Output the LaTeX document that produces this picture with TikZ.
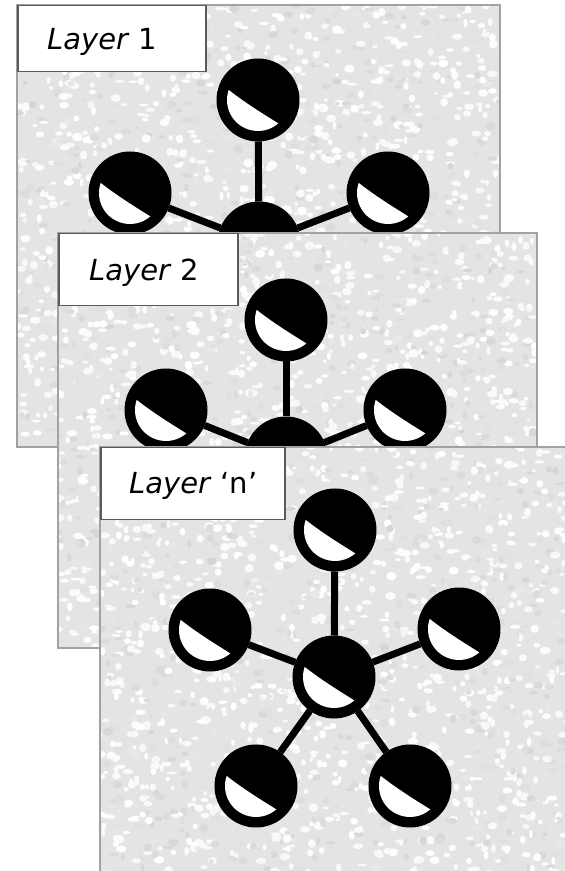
\documentclass[tikz,border=0pt]{standalone}
\usepackage{fontspec}
\setmainfont{DejaVu Sans}
\usetikzlibrary{calc}
\definecolor{panelbase}{HTML}{E4E4E4}
\definecolor{panelframe}{HTML}{A2A2A2}
\definecolor{tagframe}{HTML}{5A5A5A}

% #5 light and dark specks of stone scattered over (#1,#2)-(#3,#4)
\newcommand\speckle[5]{%
  \foreach \k in {1,...,#5}{%
    \pgfmathsetmacro\gx{#1+rnd*(#3-#1)}%
    \pgfmathsetmacro\gy{#2+rnd*(#4-#2)}%
    \pgfmathsetmacro\ga{1.8+rnd*3.6}%
    \pgfmathsetmacro\gb{1.4+rnd*3}%
    \pgfmathsetmacro\gl{rnd<0.42 ? 9+rnd*7 : rnd*3}%
    \fill[black!\gl] (\gx,\gy) ellipse[x radius=\ga, y radius=\gb];
  }%
}

\begin{document}
\begin{tikzpicture}[x=1pt,y=1pt,
  ball/.style={circle, inner sep=0pt, minimum size=76pt, fill=black, draw=black,
    line width=7pt,
    path picture={\fill[white] ($(path picture bounding box.center)+(161:31)$)
      arc[start angle=161, end angle=311, radius=31]
      .. controls ($(path picture bounding box.center)+(3.2,-12.8)$)
      and ($(path picture bounding box.center)+(-13.4,-2.4)$)
      .. ($(path picture bounding box.center)+(161:31)$) -- cycle;}},
  bond/.style={draw=black, line width=7pt},
  frame/.style={draw=panelframe, line width=1.5pt},
  tagbox/.style={draw=tagframe, fill=white, line width=1.5pt, anchor=north west,
    inner sep=0pt},
  tagtext/.style={anchor=base west, inner sep=0pt,
    font=\fontsize{29}{34}\selectfont}]
\useasboundingbox (0,0) rectangle (565,871);
\fill[white] (0,0) rectangle (565,871);
\pgfmathsetseed{4711}

% ---- Layer 1 ----
\begin{scope}
  \clip (17,424) rectangle (500,866);
  \fill[panelbase] (17,424) rectangle (500,866);
  \speckle{17}{634}{500}{866}{1000}
  \speckle{17}{424}{62}{634}{90}
\end{scope}
\node[ball] (c1) at (259,628) {};
\node[ball] (t1) at (258,771) {};
\node[ball] (l1) at (130,678) {};
\node[ball] (r1) at (388,678) {};
\draw[bond] (c1) -- (t1);
\draw[bond] (c1) -- (l1);
\draw[bond] (c1) -- (r1);
\draw[frame] (17,424) rectangle (500,866);
\node[tagbox, minimum width=188pt, minimum height=66pt] (tag1) at (17,866) {};
\node[tagtext] (txt1) at (47,821) {\textit{Layer} 1};

% ---- Layer 2 ----
\begin{scope}
  \clip (58,223) rectangle (537,638);
  \fill[panelbase] (58,223) rectangle (537,638);
  \speckle{58}{420}{537}{638}{950}
  \speckle{58}{223}{104}{420}{90}
\end{scope}
\node[ball] (c2) at (286,413) {};
\node[ball] (t2) at (286,551) {};
\node[ball] (l2) at (166,461) {};
\node[ball] (r2) at (405,461) {};
\draw[bond] (c2) -- (t2);
\draw[bond] (c2) -- (l2);
\draw[bond] (c2) -- (r2);
\draw[frame] (58,223) rectangle (537,638);
\node[tagbox, minimum width=179pt, minimum height=72pt] (tag2) at (58,638) {};
\node[tagtext] (txt2) at (89,590) {\textit{Layer} 2};

% ---- Layer n ----
\begin{scope}
  \clip (100,-5) rectangle (575,424);
  \fill[panelbase] (100,-5) rectangle (575,424);
  \speckle{100}{-5}{575}{424}{1800}
\end{scope}
\node[ball] (cn) at (334,194) {};
\node[ball] (tn) at (335,341) {};
\node[ball] (ln) at (210,241) {};
\node[ball] (rn) at (459,242) {};
\node[ball] (an) at (256,85) {};
\node[ball] (bn) at (410,85) {};
\draw[bond] (cn) -- (tn);
\draw[bond] (cn) -- (ln);
\draw[bond] (cn) -- (rn);
\draw[bond] (cn) -- (an);
\draw[bond] (cn) -- (bn);
\draw[frame] (575,424) -- (100,424) -- (100,-5);
\node[tagbox, minimum width=184pt, minimum height=72pt] (tagn) at (100,424) {};
\node[tagtext] (txtn) at (129,377) {\textit{Layer} ‘n’};
\end{tikzpicture}
\end{document}
